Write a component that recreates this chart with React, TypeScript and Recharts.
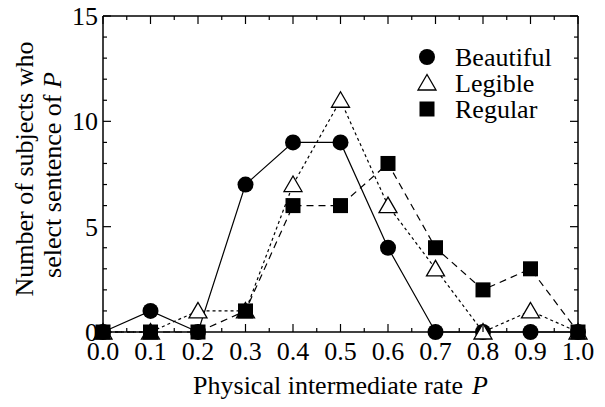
import React from 'react';
import { LineChart, Line, XAxis, YAxis, ReferenceLine, Label } from 'recharts';

const rates = [0.0, 0.1, 0.2, 0.3, 0.4, 0.5, 0.6, 0.7, 0.8, 0.9, 1.0];
const beautiful = [0, 1, 0, 7, 9, 9, 4, 0, 0, 0, 0];
const legible = [0, 0, 1, 1, 7, 11, 6, 3, 0, 1, 0];
const regular = [0, 0, 0, 1, 6, 6, 8, 4, 2, 3, 0];

const xTickLabels = ['0.0', '0.1', '0.2', '0.3', '0.4', '0.5', '0.6', '0.7', '0.8', '0.9', '1.0'];
const xTicks = [0, 0.05, 0.1, 0.15, 0.2, 0.25, 0.3, 0.35, 0.4, 0.45, 0.5, 0.55, 0.6, 0.65, 0.7, 0.75, 0.8, 0.85, 0.9, 0.95, 1.0];
const yTicks = [0, 1, 2, 3, 4, 5, 6, 7, 8, 9, 10, 11, 12, 13, 14, 15];
const yTickLabels = ['0', '5', '10', '15'];

const seriesNames = ['Beautiful', 'Legible', 'Regular'];

const data = rates.map((r, i) => ({
  rate: r,
  Beautiful: beautiful[i],
  Legible: legible[i],
  Regular: regular[i],
}));

const FONT = "'Liberation Serif', 'Times New Roman', 'DejaVu Serif', serif";
const FS = 26;
const TS: React.CSSProperties = { fontFamily: FONT, fontSize: FS };
const W = 605;
const H = 407;
const M = { top: 16, right: 27, left: 0, bottom: 0 };
const YW = 103;
const XH = 75;
const PLOT_W = W - M.left - M.right - YW;
const PLOT_H = H - M.top - M.bottom - XH;

type Shape = 'circle' | 'triangle' | 'square';

const Marker = ({ cx, cy, shape }: { cx: number; cy: number; shape: Shape }) => {
  if (shape === 'circle') return <circle cx={cx} cy={cy} r={8} fill="#000" />;
  if (shape === 'triangle')
    return (
      <polygon
        points={`${cx},${cy - 8.5} ${cx - 9},${cy + 7} ${cx + 9},${cy + 7}`}
        fill="#fff"
        stroke="#000"
        strokeWidth={1.3}
      />
    );
  return <rect x={cx - 7.5} y={cy - 7.5} width={15} height={15} fill="#000" />;
};

const makeDot = (shape: Shape) => (props: any) => {
  const { cx, cy, index } = props;
  if (cx == null || cy == null) return <g key={`${shape}-${index}`} />;
  return (
    <g key={`${shape}-${index}`}>
      <Marker cx={cx} cy={cy} shape={shape} />
    </g>
  );
};

const XTick = (props: any) => {
  const { x, y, payload } = props;
  const idx = Math.round(payload.value * 20);
  const major = idx % 2 === 0;
  const len = major ? 8 : 4;
  return (
    <g>
      <line x1={x} x2={x} y1={y} y2={y - len} stroke="#000" strokeWidth={1.2} />
      <line x1={x} x2={x} y1={y - PLOT_H} y2={y - PLOT_H + len} stroke="#000" strokeWidth={1.2} />
      {major && (
        <text x={x} y={y + 28} textAnchor="middle" style={TS} fill="#000">
          {xTickLabels[idx / 2]}
        </text>
      )}
    </g>
  );
};

const YTick = (props: any) => {
  const { x, y, payload } = props;
  const v = payload.value;
  const major = v % 5 === 0;
  const len = major ? 8 : 4;
  return (
    <g>
      <line x1={x} x2={x + len} y1={y} y2={y} stroke="#000" strokeWidth={1.2} />
      <line x1={x + PLOT_W} x2={x + PLOT_W - len} y1={y} y2={y} stroke="#000" strokeWidth={1.2} />
      {major && (
        <text x={x - 5} y={y + 9} textAnchor="end" style={TS} fill="#000">
          {yTickLabels[v / 5]}
        </text>
      )}
    </g>
  );
};

const XTitle = (props: any) => {
  const vb = props.viewBox || {};
  const cx = (vb.x ?? YW) + (vb.width ?? PLOT_W) / 2;
  const y = (vb.y ?? M.top + PLOT_H) + 62;
  return (
    <text x={cx} y={y} textAnchor="middle" style={TS} fill="#000">
      Physical intermediate rate
      <tspan dx={9} fontStyle="italic">P</tspan>
    </text>
  );
};

const YTitle = () => {
  const cy = 172;
  return (
    <g fill="#000">
      <text x={33} y={cy - 3} transform={`rotate(-90, 33, ${cy - 3})`} textAnchor="middle" style={TS}>
        Number of subjects who
      </text>
      <text x={61} y={cy + 3} transform={`rotate(-90, 61, ${cy + 3})`} textAnchor="middle" style={TS}>
        select sentence of <tspan fontStyle="italic">P</tspan>
      </text>
    </g>
  );
};

const shapes: Shape[] = ['circle', 'triangle', 'square'];
const dashes = [undefined, '3 3', '7 5'];

export default function App() {
  return (
    <div style={{ position: 'absolute', left: 0, top: 0, width: W, height: H, background: '#fff', fontFamily: FONT }}>
      <LineChart width={W} height={H} data={data} margin={M}>
        <XAxis
          dataKey="rate"
          type="number"
          domain={[0, 1]}
          ticks={xTicks}
          interval={0}
          tickLine={false}
          tickSize={0}
          tickMargin={0}
          tick={<XTick />}
          height={XH}
          axisLine={{ stroke: '#000', strokeWidth: 1.5 }}
        >
          <Label content={<XTitle />} />
        </XAxis>
        <YAxis
          type="number"
          domain={[0, 15]}
          ticks={yTicks}
          interval={0}
          tickLine={false}
          tickSize={0}
          tickMargin={0}
          tick={<YTick />}
          width={YW}
          axisLine={{ stroke: '#000', strokeWidth: 1.5 }}
        >
          <Label content={<YTitle />} />
        </YAxis>
        <ReferenceLine y={15} stroke="#000" strokeWidth={1.5} />
        <ReferenceLine x={1} stroke="#000" strokeWidth={1.5} />
        {seriesNames.map((name, i) => (
          <Line
            key={name}
            type="linear"
            dataKey={name}
            stroke="#000"
            strokeWidth={1.2}
            strokeDasharray={dashes[i]}
            dot={makeDot(shapes[i])}
            activeDot={false}
            isAnimationActive={false}
          />
        ))}
      </LineChart>
      <svg
        width={W}
        height={H}
        style={{ position: 'absolute', left: 0, top: 0, pointerEvents: 'none' }}
      >
        {seriesNames.map((name, i) => {
          const my = 57 + i * 26;
          return (
            <g key={name}>
              <Marker cx={427} cy={my} shape={shapes[i]} />
              <text x={455} y={my + 9} style={TS} fill="#000">
                {name}
              </text>
            </g>
          );
        })}
      </svg>
    </div>
  );
}
